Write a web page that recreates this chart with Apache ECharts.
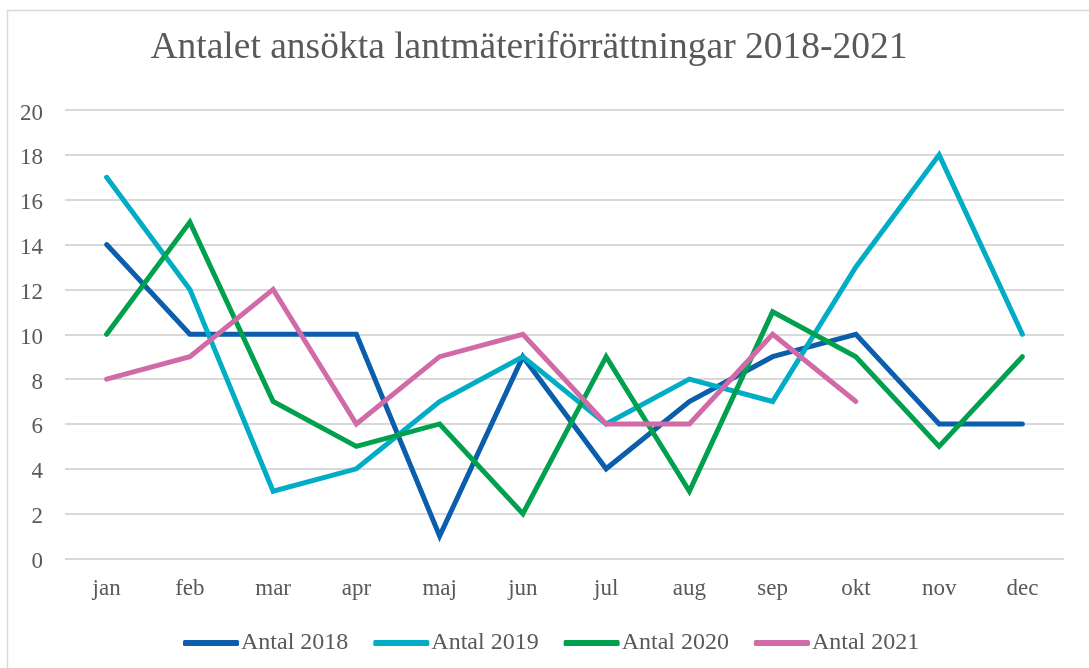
<!DOCTYPE html>
<html><head><meta charset="utf-8">
<script src="https://cdn.jsdelivr.net/npm/echarts@6/dist/echarts.min.js"></script>
<style>html,body{margin:0;padding:0;background:#fff}#c{width:1089px;height:668px}</style>
</head><body><div id="c"></div>
<script>
const categories = ['jan','feb','mar','apr','maj','jun','jul','aug','sep','okt','nov','dec'];
const seriesNames = ['Antal 2018','Antal 2019','Antal 2020','Antal 2021'];
const antal2018 = [14,10,10,10,1,9,4,7,9,10,6,6];
const antal2019 = [17,12,3,4,7,9,6,8,7,13,18,10];
const antal2020 = [10,15,7,5,6,2,9,3,11,9,5,9];
const antal2021 = [8,9,12,6,9,10,6,6,10,7];
const colors = ['#0a5eac','#00adc4','#00a04c','#d16ba8'];
const font = '"Liberation Serif","Times New Roman",serif';
const chart = echarts.init(document.getElementById('c'));
const allData = [antal2018, antal2019, antal2020, antal2021];
chart.setOption({
  animation:false,
  graphic:[{type:'rect',shape:{x:7.5,y:10.5,width:1100,height:700},style:{fill:'none',stroke:'#d9d9d9',lineWidth:1.5},silent:true,z:-1}],
  title:{text:'Antalet ansökta lantmäteriförrättningar 2018-2021',left:524,textAlign:'center',top:24,
    textStyle:{fontFamily:font,fontSize:37.5,fontWeight:'normal',color:'#595959'}},
  legend:{left:178,top:626,itemWidth:56,itemHeight:6,itemGap:25,icon:'roundRect',
    textStyle:{fontFamily:font,fontSize:24,color:'#595959',padding:[0,0,0,-3]},data:seriesNames},
  grid:{left:65,right:25,top:110,bottom:109.5},
  xAxis:{type:'category',data:categories,boundaryGap:true,
    axisLine:{show:false},axisTick:{show:false},
    axisLabel:{fontFamily:font,fontSize:23,color:'#595959',margin:19}},
  yAxis:{type:'value',min:0,max:20,interval:2,
    axisLine:{show:false},axisTick:{show:false},
    splitLine:{lineStyle:{color:'#d9d9d9',width:2}},
    axisLabel:{fontFamily:font,fontSize:23,color:'#595959',margin:22,
      formatter:'{a|{value}}',
      rich:{a:{fontFamily:font,fontSize:23,color:'#595959',padding:[7,0,0,0]}}}},
  series: seriesNames.map((n,i)=>({name:n,type:'line',data:allData[i],symbol:'none',
    lineStyle:{width:5,color:colors[i],cap:'round',join:'miter'},itemStyle:{color:colors[i]}}))
});
</script></body></html>
